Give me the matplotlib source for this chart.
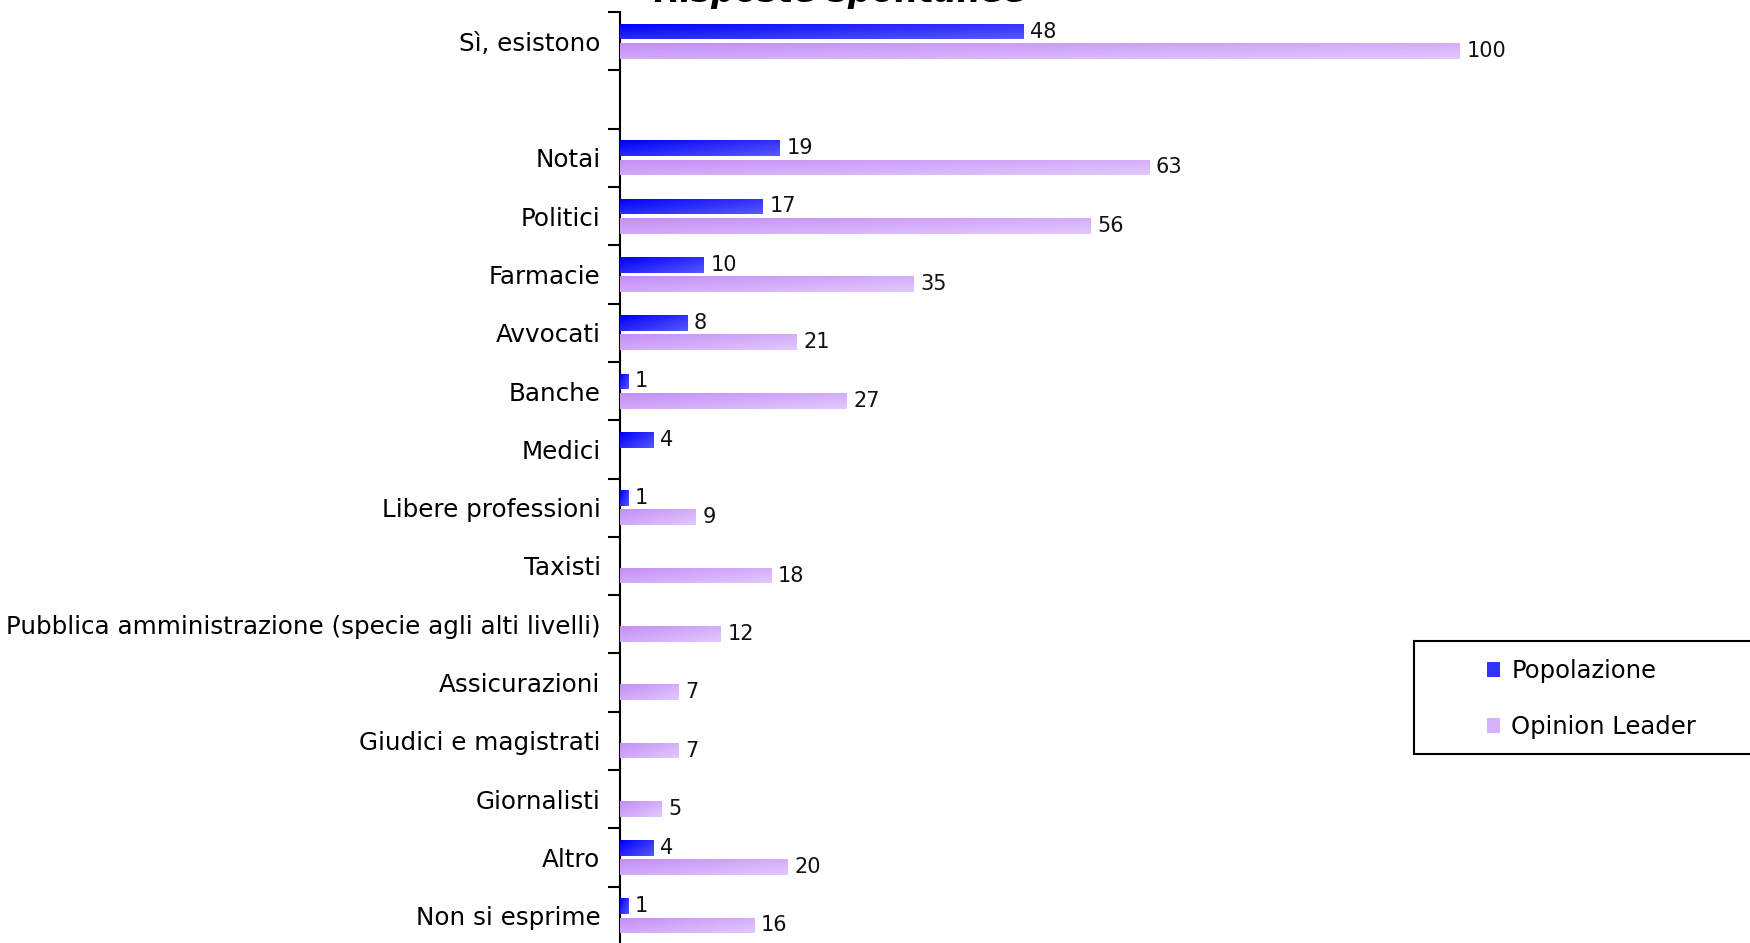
import matplotlib
matplotlib.use("Agg")
import matplotlib.pyplot as plt
import numpy as np
from matplotlib.colors import LinearSegmentedColormap
from matplotlib.patches import Patch, Rectangle

categories = ["Sì, esistono", "", "Notai", "Politici", "Farmacie", "Avvocati",
              "Banche", "Medici", "Libere professioni", "Taxisti",
              "Pubblica amministrazione (specie agli alti livelli)",
              "Assicurazioni", "Giudici e magistrati", "Giornalisti",
              "Altro", "Non si esprime"]
popolazione = [48, None, 19, 17, 10, 8, 1, 4, 1, None, None, None, None, None, 4, 1]
opinion_leader = [100, None, 63, 56, 35, 21, 27, None, 9, 18, 12, 7, 7, 5, 20, 16]
series_names = ["Popolazione", "Opinion Leader"]
title = "Risposte spontanee"

plt.rcParams['font.family'] = ['DejaVu Sans']
W, H = 1750, 943
fig = plt.figure(figsize=(W / 100, H / 100), dpi=100)
ax = fig.add_axes([620 / W, -2 / H, 1 - 620 / W, (943 - 10) / H])

cmap_blue = LinearSegmentedColormap.from_list("b", ["#0000f8", "#5858ff"])
cmap_purp = LinearSegmentedColormap.from_list("p", ["#c48ef6", "#e2c8fe"])
solid = {"Popolazione": "#2a2aff", "Opinion Leader": "#d4aafb"}

n = len(categories)
y = np.arange(n)
bh = 0.27
off = 0.165

gx = np.linspace(0, 1, 64).reshape(1, -1)
gy = np.linspace(0, 1, 16).reshape(-1, 1)
grad2 = 0.55 * gx + 0.45 * gy

def draw(vals, dy, cmap, name):
    for i, v in enumerate(vals):
        if v is None:
            continue
        b = ax.barh(y[i] + dy, v, height=bh, color=solid[name], edgecolor="none", zorder=2)[0]
        im = ax.imshow(grad2, cmap=cmap, aspect="auto", zorder=3, vmin=0, vmax=1,
                       extent=[0, v, y[i] + dy + bh / 2, y[i] + dy - bh / 2],
                       interpolation="bilinear")
        im.set_clip_path(b)
        ax.text(v + 0.8, y[i] + dy, f"{v}", va="center", ha="left",
                fontsize=15, color="#111111", zorder=4)

draw(popolazione, -off, cmap_blue, series_names[0])
draw(opinion_leader, off, cmap_purp, series_names[1])

ax.set_xlim(0, (W - 620) / 8.4)
ax.set_ylim(n - 0.5, -0.5)
ax.set_yticks(y)
ax.set_yticklabels(categories, fontsize=17.7)
ax.tick_params(axis="y", which="major", length=0, pad=14)
ax.set_yticks(np.arange(n + 1) - 0.5, minor=True)
ax.tick_params(axis="y", which="minor", length=9, width=1.5, direction="out")
ax.set_xticks([])
for s in ["top", "right", "bottom"]:
    ax.spines[s].set_visible(False)
ax.spines["left"].set_linewidth(1.5)
ax.set_facecolor("none")

fig.text(840 / W, 1 - 2 / H, title, ha="center", va="baseline", fontsize=24,
         fontweight="bold", style="italic")

# legend frame
frame = Rectangle((1414 / W, 1 - 754 / H), 400 / W, 113 / H, transform=fig.transFigure,
                  facecolor="white", edgecolor="black", linewidth=1.5, zorder=5)
fig.patches.append(frame)
handles = [Patch(facecolor="#3232ff", edgecolor="none"),
           Patch(facecolor="#d6b2fc", edgecolor="none")]
leg = fig.legend(handles, series_names, loc="center left",
                 bbox_to_anchor=(1487 / W, 1 - 699 / H), fontsize=17.5,
                 frameon=False, handlelength=0.55, handleheight=0.55,
                 handletextpad=0.45, labelspacing=1.3, borderpad=0,
                 borderaxespad=0)
leg.set_zorder(6)

fig.savefig("out.png", dpi=100)
